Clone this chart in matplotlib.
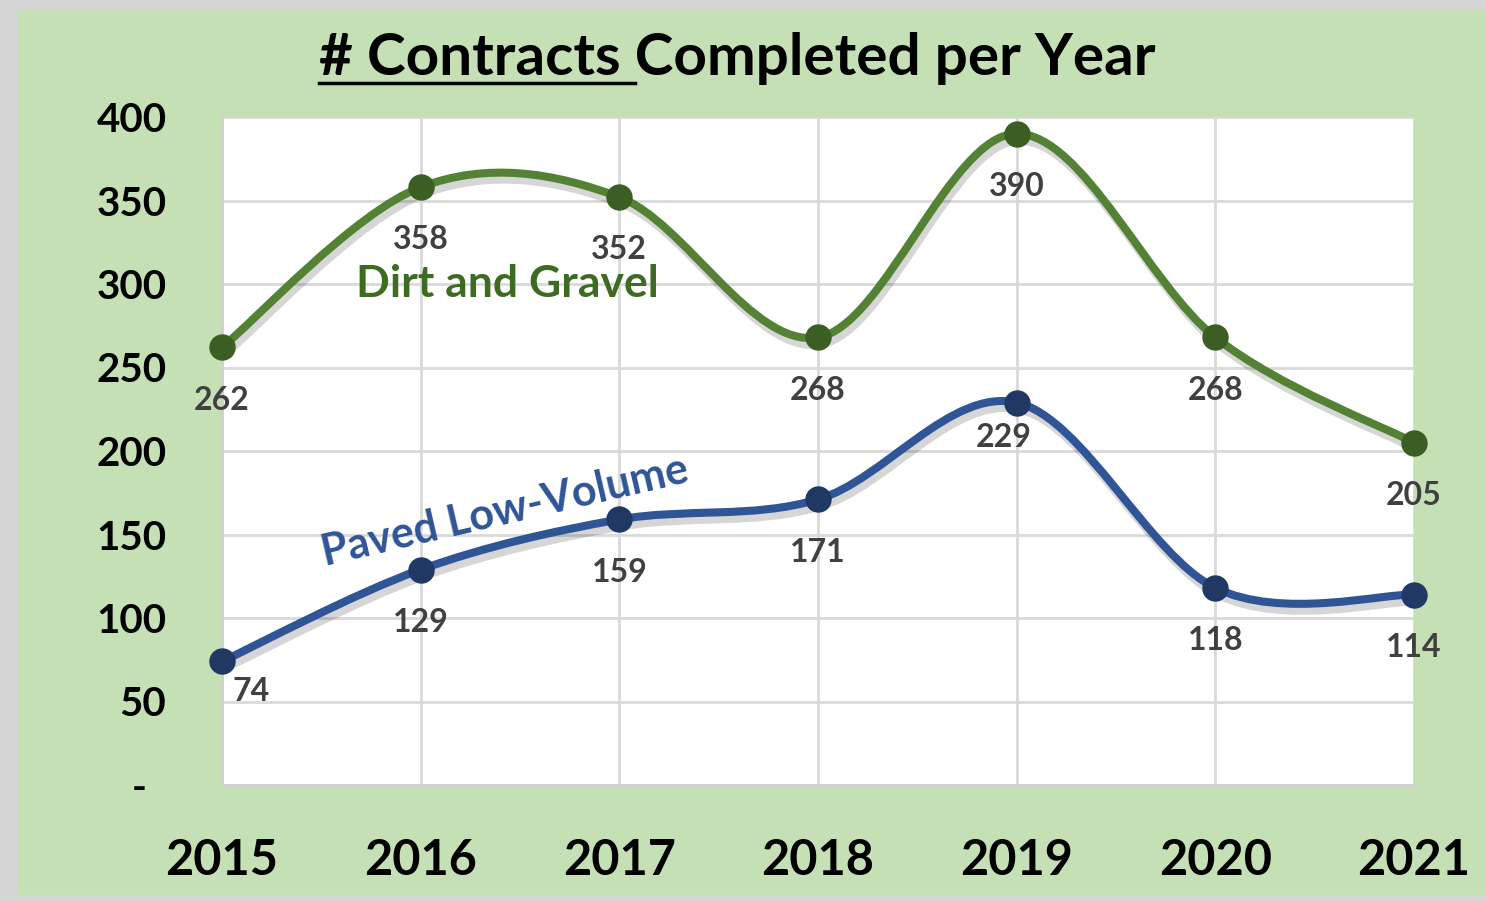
import numpy as np
import matplotlib
matplotlib.use('Agg')
import matplotlib.pyplot as plt
import matplotlib.patheffects as pe
from matplotlib.path import Path
from matplotlib.patches import PathPatch, Rectangle
from matplotlib.lines import Line2D

plt.rcParams['font.family'] = ['Lato', 'DejaVu Sans']

years = ['2015', '2016', '2017', '2018', '2019', '2020', '2021']
dirt_gravel = [262, 358, 352, 268, 390, 268, 205]
paved_low = [74, 129, 159, 171, 229, 118, 114]
y_ticks = [0, 50, 100, 150, 200, 250, 300, 350, 400]
y_labels = ['-  ', '50', '100', '150', '200', '250', '300', '350', '400']

GREEN_BG = '#C5E0B4'
GREEN_LINE = '#548235'
GREEN_DOT = '#3B5E22'
BLUE_LINE = '#2F5597'
BLUE_DOT = '#1F3864'
LABEL_GRAY = '#404040'


def smooth_path(xs, ys):
    # Excel style smoothed line: cubic bezier with catmull-rom tangents
    pts = np.column_stack([xs, ys]).astype(float)
    n = len(pts)
    verts = [pts[0]]
    codes = [Path.MOVETO]
    for i in range(n - 1):
        p0 = pts[max(i - 1, 0)]
        p1 = pts[i]
        p2 = pts[i + 1]
        p3 = pts[min(i + 2, n - 1)]
        verts += [p1 + (p2 - p0) / 6, p2 - (p3 - p1) / 6, p2]
        codes += [Path.CURVE4] * 3
    return Path(verts, codes)


fig = plt.figure(figsize=(14.86, 9.01), dpi=100)
fig.patch.set_facecolor('#D6D6D6')
fig.patches.append(Rectangle((17 / 1486, 6 / 901), 1 - 17 / 1486, 1 - 15 / 901,
                             transform=fig.transFigure, facecolor=GREEN_BG,
                             edgecolor='none', zorder=-5))

ax = fig.add_axes([222 / 1486, 116 / 901, 1192 / 1486, 668 / 901])
ax.set_zorder(2)
ax.set_facecolor('white')
x = np.arange(len(years))

shadow = [pe.SimpleLineShadow(offset=(2, -5), shadow_color='k', alpha=0.16),
          pe.Normal()]

for vals, lc, dc in [(dirt_gravel, GREEN_LINE, GREEN_DOT),
                     (paved_low, BLUE_LINE, BLUE_DOT)]:
    patch = PathPatch(smooth_path(x, vals), facecolor='none', edgecolor=lc,
                      linewidth=5.8, capstyle='round', zorder=3,
                      path_effects=shadow)
    ax.add_patch(patch)
    ax.plot(x, vals, 'o', color=dc, markersize=18, zorder=4, clip_on=False)

# data labels
for i, v in enumerate(dirt_gravel):
    ax.annotate(str(v), (x[i], v), xytext=(0, -38), textcoords='offset points',
                ha='center', va='center', fontsize=23, fontweight='bold',
                color=LABEL_GRAY, zorder=5)
paved_offsets = {0: (21, -22), 4: (-9, -25)}
for i, v in enumerate(paved_low):
    off = paved_offsets.get(i, (0, -38))
    ax.annotate(str(v), (x[i], v), xytext=off, textcoords='offset points',
                ha='center', va='center', fontsize=23, fontweight='bold',
                color=LABEL_GRAY, zorder=5)

ax.text(1.434, 300, 'Dirt and Gravel', ha='center', va='center', fontsize=32,
        fontweight='bold', color='#3E6B22', zorder=5)
ax.text(1.424, 164, 'Paved Low-Volume', ha='center', va='center', fontsize=31,
        fontweight='bold', color=BLUE_LINE, rotation=13, zorder=5)

ax.set_xlim(0, len(years) - 1)
ax.set_ylim(0, 400)
ax.set_xticks(x, years)
ax.set_yticks(y_ticks, y_labels)
ax.tick_params(axis='both', length=0)
ax.tick_params(axis='y', labelsize=29, pad=40)
ax.tick_params(axis='x', labelsize=35, pad=38)
for lab in ax.get_xticklabels() + ax.get_yticklabels():
    lab.set_fontweight('bold')
ax.grid(True, color='#D9D9D9', linewidth=2)
ax.set_axisbelow(True)
for s in ax.spines.values():
    s.set_visible(False)
ax.spines['left'].set_visible(True)
ax.spines['left'].set_color('#D0D0D0')
ax.spines['left'].set_linewidth(2)
ax.spines['bottom'].set_visible(True)
ax.spines['bottom'].set_color('#D0D0D0')
ax.spines['bottom'].set_linewidth(2)

# title with the first part underlined
title_y = 1 - 75 / 901
title = fig.text(737 / 1486, title_y, '# Contracts Completed per Year',
                 ha='center', va='baseline', fontsize=42, fontweight='bold')
renderer = fig.canvas.get_renderer()
tb = title.get_window_extent(renderer)
probe = fig.text(0, 0, '# Contracts C', fontsize=42, fontweight='bold')
probe_c = fig.text(0, 0, 'C', fontsize=42, fontweight='bold')
w = (probe.get_window_extent(renderer).width
     - probe_c.get_window_extent(renderer).width)
probe.remove()
probe_c.remove()
W, H = fig.bbox.width, fig.bbox.height
fig.lines.append(Line2D([tb.x0 / W, (tb.x0 + w) / W],
                        [title_y - 8 / 901, title_y - 8 / 901],
                        transform=fig.transFigure, color='black', linewidth=2.5))

fig.savefig('out.png', dpi=100, facecolor=fig.get_facecolor())
